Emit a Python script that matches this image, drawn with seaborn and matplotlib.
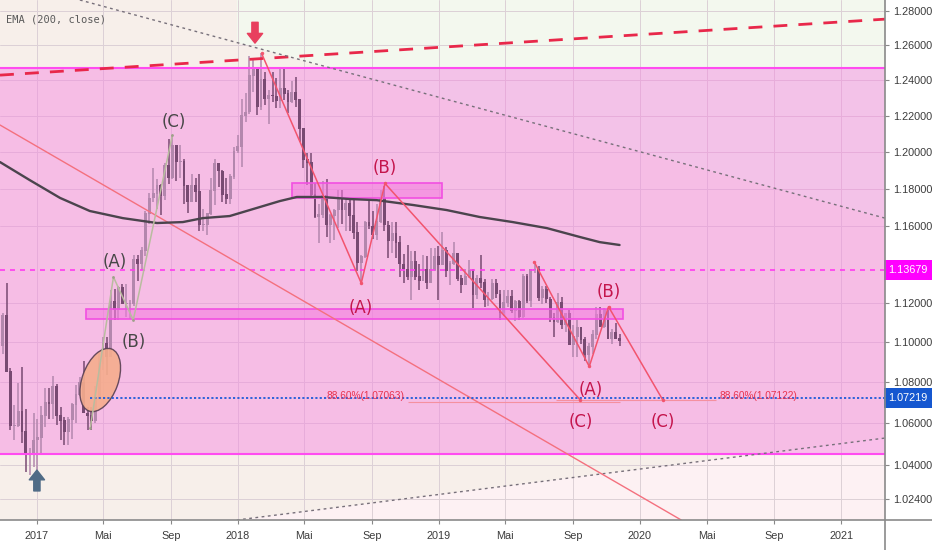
import matplotlib
matplotlib.use("Agg")
import numpy as np
import pandas as pd
import matplotlib.pyplot as plt
import matplotlib.dates as mdates
import matplotlib.transforms as mtransforms
from matplotlib.patches import Ellipse, Rectangle
from matplotlib.lines import Line2D
from matplotlib.ticker import FixedLocator, NullLocator
import seaborn as sns

# === weekly candles (EUR/USD style), open = previous close ===
first_week = "2016-10-31"
first_open = 1.0985
highs = [1.1146, 1.1300, 1.0870, 1.0690, 1.0797, 1.0875, 1.0670, 1.0480, 1.0650,
         1.0620, 1.0685, 1.0775, 1.0775, 1.0830, 1.0790, 1.0680, 1.0630, 1.0630,
         1.0700, 1.0785, 1.0825, 1.0905, 1.0680, 1.0680, 1.0780, 1.0950, 1.1025,
         1.1025, 1.1265, 1.1270, 1.1285, 1.1295, 1.1295, 1.1215, 1.1445, 1.1445,
         1.1490, 1.1680, 1.1775, 1.1910, 1.1850, 1.1825, 1.1940, 1.2070, 1.2092,
         1.2040, 1.2035, 1.1960, 1.1820, 1.1880, 1.1860, 1.1880, 1.1690, 1.1665,
         1.1860, 1.1960, 1.1940, 1.1900, 1.1860, 1.1880, 1.2025,
         1.2090, 1.2295, 1.2325, 1.2536, 1.2520, 1.2475, 1.2555, 1.2445, 1.2345,
         1.2445, 1.2410, 1.2475, 1.2475, 1.2345, 1.2395, 1.2415, 1.2290, 1.2130,
         1.1995, 1.1995, 1.1830, 1.1720, 1.1840, 1.1850, 1.1665, 1.1690, 1.1790,
         1.1790, 1.1745, 1.1750, 1.1745, 1.1620, 1.1445, 1.1625, 1.1735, 1.1680,
         1.1720, 1.1790, 1.1815, 1.1625, 1.1620, 1.1620, 1.1545, 1.1455, 1.1500,
         1.1470, 1.1470, 1.1400, 1.1445, 1.1440, 1.1485, 1.1485,
         1.1495, 1.1570, 1.1490, 1.1415, 1.1515, 1.1460, 1.1345, 1.1375, 1.1420,
         1.1375, 1.1345, 1.1450, 1.1325, 1.1255, 1.1325, 1.1325, 1.1265, 1.1265,
         1.1265, 1.1265, 1.1215, 1.1215, 1.1350, 1.1350, 1.1375, 1.1412, 1.1390,
         1.1285, 1.1285, 1.1230, 1.1150, 1.1250, 1.1230, 1.1150, 1.1165, 1.1085,
         1.1110, 1.1075, 1.1025, 1.0995, 1.1060, 1.1180, 1.1180, 1.1175, 1.1175,
         1.1065, 1.1095, 1.1040]
lows = [1.0942, 1.0850, 1.0570, 1.0518, 1.0580, 1.0505, 1.0365, 1.0352, 1.0390,
        1.0340, 1.0455, 1.0580, 1.0620, 1.0620, 1.0590, 1.0520, 1.0495, 1.0495,
        1.0525, 1.0600, 1.0735, 1.0650, 1.0570, 1.0570, 1.0600, 1.0820, 1.0860,
        1.0835, 1.0925, 1.1110, 1.1110, 1.1195, 1.1130, 1.1120, 1.1185, 1.1310,
        1.1370, 1.1440, 1.1610, 1.1730, 1.1690, 1.1660, 1.1740, 1.1825, 1.1850,
        1.1840, 1.1860, 1.1715, 1.1670, 1.1730, 1.1730, 1.1575, 1.1575, 1.1555,
        1.1660, 1.1710, 1.1810, 1.1730, 1.1715, 1.1720, 1.1850,
        1.1995, 1.1915, 1.2165, 1.2210, 1.2335, 1.2205, 1.2230, 1.2260, 1.2155,
        1.2275, 1.2240, 1.2240, 1.2285, 1.2215, 1.2270, 1.2250, 1.2055, 1.1910,
        1.1820, 1.1750, 1.1645, 1.1510, 1.1640, 1.1540, 1.1510, 1.1525, 1.1590,
        1.1610, 1.1575, 1.1575, 1.1530, 1.1365, 1.1301, 1.1430, 1.1585, 1.1530,
        1.1525, 1.1615, 1.1575, 1.1430, 1.1460, 1.1430, 1.1335, 1.1300, 1.1315,
        1.1215, 1.1320, 1.1265, 1.1315, 1.1270, 1.1300, 1.1365,
        1.1215, 1.1395, 1.1335, 1.1290, 1.1395, 1.1310, 1.1250, 1.1295, 1.1330,
        1.1175, 1.1220, 1.1275, 1.1180, 1.1185, 1.1215, 1.1225, 1.1110, 1.1135,
        1.1180, 1.1150, 1.1105, 1.1115, 1.1125, 1.1200, 1.1180, 1.1355, 1.1210,
        1.1195, 1.1200, 1.1100, 1.1025, 1.1095, 1.1065, 1.1050, 1.0985, 1.0925,
        1.0925, 1.0990, 1.0905, 1.0879, 1.0940, 1.1015, 1.1075, 1.1070, 1.1015,
        1.0990, 1.1015, 1.0980]
closes = [1.1138, 1.0855, 1.0590, 1.0590, 1.0660, 1.0560, 1.0450, 1.0455, 1.0520,
          1.0530, 1.0640, 1.0700, 1.0695, 1.0780, 1.0640, 1.0615, 1.0560, 1.0620,
          1.0690, 1.0740, 1.0800, 1.0650, 1.0640, 1.0615, 1.0725, 1.0895, 1.0995,
          1.0930, 1.1205, 1.1165, 1.1280, 1.1195, 1.1195, 1.1195, 1.1425, 1.1400,
          1.1470, 1.1665, 1.1750, 1.1775, 1.1820, 1.1760, 1.1925, 1.1860, 1.2035,
          1.1945, 1.1950, 1.1815, 1.1730, 1.1820, 1.1785, 1.1605, 1.1610, 1.1665,
          1.1790, 1.1935, 1.1895, 1.1770, 1.1745, 1.1865, 1.2005,
          1.2030, 1.2200, 1.2220, 1.2425, 1.2460, 1.2250, 1.2405, 1.2295, 1.2315,
          1.2310, 1.2285, 1.2355, 1.2325, 1.2280, 1.2330, 1.2290, 1.2130, 1.1960,
          1.1940, 1.1770, 1.1650, 1.1660, 1.1765, 1.1610, 1.1655, 1.1685, 1.1745,
          1.1685, 1.1720, 1.1655, 1.1565, 1.1410, 1.1440, 1.1620, 1.1600, 1.1555,
          1.1625, 1.1750, 1.1605, 1.1525, 1.1560, 1.1515, 1.1400, 1.1375, 1.1335,
          1.1415, 1.1335, 1.1315, 1.1375, 1.1305, 1.1370, 1.1440,
          1.1395, 1.1470, 1.1365, 1.1405, 1.1455, 1.1325, 1.1295, 1.1335, 1.1365,
          1.1240, 1.1325, 1.1305, 1.1215, 1.1220, 1.1300, 1.1245, 1.1150, 1.1200,
          1.1235, 1.1160, 1.1205, 1.1130, 1.1335, 1.1210, 1.1370, 1.1370, 1.1225,
          1.1270, 1.1220, 1.1125, 1.1105, 1.1200, 1.1090, 1.1145, 1.0990, 1.1030,
          1.1075, 1.1015, 1.0940, 1.0980, 1.1040, 1.1140, 1.1080, 1.1165, 1.1020,
          1.1050, 1.1020, 1.1010]

# === EMA(200) ===
ema_dates = ["2016-10-26", "2016-12-19", "2017-02-12", "2017-04-07", "2017-06-06",
             "2017-08-07", "2017-09-23", "2017-10-29", "2017-12-17", "2018-02-04",
             "2018-03-18", "2018-04-18", "2018-06-04", "2018-07-23", "2018-09-10",
             "2018-11-15", "2019-01-15", "2019-03-16", "2019-05-15", "2019-07-16",
             "2019-09-14", "2019-10-20", "2019-11-25"]
ema_values = [1.1944, 1.1846, 1.1750, 1.1680, 1.1642, 1.1616, 1.1621, 1.1642, 1.1653,
              1.1696, 1.1733, 1.1755, 1.1755, 1.1744, 1.1738, 1.1712, 1.1685, 1.1648,
              1.1621, 1.1589, 1.1542, 1.1515, 1.1500]

# === drawings ===
wave_gray_dates = ["2017-04-08", "2017-05-20", "2017-06-25", "2017-09-04"]
wave_gray_prices = [1.0578, 1.1333, 1.1112, 1.2092]
wave_red1_dates = ["2018-02-13", "2018-08-13", "2018-09-25", "2019-09-14"]
wave_red1_prices = [1.2552, 1.1301, 1.1828, 1.0716]
wave_red2_dates = ["2019-06-23", "2019-10-01", "2019-11-05", "2020-02-11"]
wave_red2_prices = [1.1412, 1.0879, 1.1180, 1.0716]

gray_labels = ["(A)", "(B)", "(C)"]
gray_label_dates = ["2017-05-23", "2017-06-26", "2017-09-06"]
gray_label_prices = [1.1411, 1.1001, 1.2165]
red_labels = ["(B)", "(A)", "(B)", "(A)", "(C)", "(C)"]
red_label_dates = ["2018-09-25", "2018-08-12", "2019-11-05", "2019-10-03", "2019-09-16", "2020-02-11"]
red_label_prices = [1.1910, 1.1173, 1.1257, 1.0763, 1.0608, 1.0608]

zone_low, zone_high = 1.0453, 1.2470
level_magenta = 1.13679
level_blue = 1.07219
level_blue_start = "2017-04-07"
box_a = ("2017-04-01", "2019-12-02", 1.1118, 1.1166)
box_b = ("2018-04-09", "2019-01-07", 1.1750, 1.1830)

red_dash_dates = ["2016-10-26", "2021-03-21"]
red_dash_prices = [1.2428, 1.2750]
upper_dot_dates = ["2017-03-20", "2021-03-21"]
upper_dot_prices = [1.2862, 1.1642]
lower_dot_dates = ["2017-12-30", "2021-03-21"]
lower_dot_prices = [1.0142, 1.0529]
long_red_dates = ["2016-10-26", "2020-03-16"]
long_red_prices = [1.2148, 1.0142]

fib_levels = [1.07063, 1.07122]
fib_line_dates = [("2018-11-05", "2019-11-25"), ("2019-08-01", "2020-05-18")]
fib_texts = ["88.60%(1.07063)", "88.60%(1.07122)"]
fib_text_dates = ["2018-10-31", "2020-05-24"]

ellipse_center = ("2017-04-26", 1.0812)
arrow_down_tip = ("2018-02-01", 1.2611)
arrow_up_tip = ("2017-01-01", 1.0376)

y_ticks = [1.28, 1.26, 1.24, 1.22, 1.20, 1.18, 1.16, 1.12, 1.10, 1.08, 1.06, 1.04, 1.024]
x_tick_dates = ["2017-01-01", "2017-05-01", "2017-09-01", "2018-01-01", "2018-05-01",
                "2018-09-01", "2019-01-01", "2019-05-01", "2019-09-01", "2020-01-01",
                "2020-05-01", "2020-09-01", "2021-01-01"]
x_tick_labels = ["2017", "Mai", "Sep", "2018", "Mai", "Sep", "2019", "Mai", "Sep",
                 "2020", "Mai", "Sep", "2021"]


def dn(d):
    return mdates.date2num(pd.Timestamp(d))


def dns(ds):
    return [dn(d) for d in ds]


sns.set_theme(style="white")
plt.rcParams["font.family"] = ["Liberation Sans", "DejaVu Sans"]

fig = plt.figure(figsize=(9.32, 5.5), dpi=100)
fig.patch.set_facecolor("white")
ax = fig.add_axes([0, 30 / 550, 885 / 932, 520 / 550])
ax.set_yscale("log")
xmin, xmax = dn("2016-10-26"), dn("2021-03-21")
ymin, ymax = 1.01421, 1.2862
ax.set_xlim(xmin, xmax)
ax.set_ylim(ymin, ymax)
ax.set_facecolor("#f7efea")

# background regions outside the triangle
x0 = dn("2017-12-30")
ax.fill([x0, xmax, xmax, x0], [1.2614, 1.1642, ymax, ymax], color="#f3f8ee", zorder=0.2, lw=0)
ax.fill([x0, xmax, xmax], [ymin, 1.0529, ymin], color="#fdf1f3", zorder=0.2, lw=0)

# grid
ax.set_axisbelow(True)
ax.grid(True, color="#dcd0d6", lw=0.7)

# main pink zone
ax.add_patch(Rectangle((xmin, zone_low), xmax - xmin, zone_high - zone_low,
                       facecolor=(245 / 255, 130 / 255, 225 / 255, 0.45), lw=0, zorder=2))
ax.hlines([zone_low, zone_high], xmin, xmax, color="#ff4cf0", lw=1.5, zorder=3)

# candles
wx = np.array(dns(pd.date_range(first_week, periods=len(closes), freq="7D")))
c = np.array(closes)
o = np.array([first_open] + closes[:-1])
h = np.array(highs)
l = np.array(lows)
up = c >= o
up_col, dn_col = "#b387ad", "#784a72"
for mask, col in [(up, up_col), (~up, dn_col)]:
    ax.vlines(wx[mask], l[mask], h[mask], color=col, lw=1.1, zorder=2.5)
    ax.bar(wx[mask], np.abs(c - o)[mask] + 0.0004, bottom=np.minimum(o, c)[mask] - 0.0002,
           width=5.2, color=col, lw=0, zorder=2.5)

# highlight boxes
for d1, d2, p1, p2 in [box_a, box_b]:
    ax.add_patch(Rectangle((dn(d1), p1), dn(d2) - dn(d1), p2 - p1,
                           facecolor=(243 / 255, 120 / 255, 222 / 255, 0.55),
                           edgecolor="#f24fe2", lw=1.2, zorder=3))

# horizontal levels
ax.hlines(level_magenta, xmin, xmax, color="#ff3cf0", lw=1.2, linestyles=(0, (3, 3)), zorder=3)
ax.hlines(level_blue, dn(level_blue_start), xmax, color="#1e5bd8", lw=1.3,
          linestyles=(0, (1.2, 1.2)), zorder=5)
for (d1, d2), lv in zip(fib_line_dates, fib_levels):
    ax.hlines(lv, dn(d1), dn(d2), color="#f5909f", lw=0.8, zorder=3)
ax.text(dn(fib_text_dates[0]), 1.0718, fib_texts[0], ha="right", va="baseline",
        fontsize=7.3, color="#e8334f", zorder=6)
ax.text(dn(fib_text_dates[1]), 1.0718, fib_texts[1], ha="left", va="baseline",
        fontsize=7.3, color="#e8334f", zorder=6)

# trend lines
ax.plot(dns(red_dash_dates), red_dash_prices, color="#e8284a", lw=2,
        ls=(0, (5, 4)), zorder=4)
ax.plot(dns(upper_dot_dates), upper_dot_prices, color="#77707a", lw=1,
        ls=(0, (2, 2.5)), zorder=4)
ax.plot(dns(lower_dot_dates), lower_dot_prices, color="#77707a", lw=1,
        ls=(0, (2, 2.5)), zorder=4)
ax.plot(dns(long_red_dates), long_red_prices, color="#f4707e", lw=1, zorder=4)

# EMA line
sns.lineplot(x=dns(ema_dates), y=ema_values, ax=ax, color="#4b444d", lw=1.7,
             sort=False, zorder=4)

# wave paths
ax.plot(dns(wave_gray_dates), wave_gray_prices, color="#b9bc9f", lw=1.1, zorder=5,
        marker="o", ms=2, mfc="#9ea08a", mec="none")
for ds, ps in [(wave_red1_dates, wave_red1_prices), (wave_red2_dates, wave_red2_prices)]:
    ax.plot(dns(ds), ps, color="#f2546e", lw=1.1, zorder=5, marker="o", ms=2.5,
            mfc="#f2546e", mec="none")
for t, d, p in zip(gray_labels, gray_label_dates, gray_label_prices):
    ax.text(dn(d), p, t, ha="center", va="center", fontsize=12, color="#474747",
            family=["DejaVu Sans"], zorder=6)
for t, d, p in zip(red_labels, red_label_dates, red_label_prices):
    ax.text(dn(d), p, t, ha="center", va="center", fontsize=12, color="#c4154c",
            family=["DejaVu Sans"], zorder=6)

# ellipse (sized in screen inches, anchored in data)
et = fig.dpi_scale_trans + mtransforms.ScaledTranslation(dn(ellipse_center[0]), ellipse_center[1], ax.transData)
ax.add_patch(Ellipse((0, 0), 0.66, 0.36, angle=70, transform=et,
                     facecolor="#f5ad8e", edgecolor="#5b4155", lw=1, alpha=0.92, zorder=3.5))

# arrows
ax.annotate("", xy=(dn(arrow_down_tip[0]), arrow_down_tip[1]), xytext=(0, 15),
            textcoords="offset points",
            arrowprops=dict(width=4.5, headwidth=11, headlength=7, color="#e8405e", shrink=0),
            zorder=6)
ax.annotate("", xy=(dn(arrow_up_tip[0]), arrow_up_tip[1]), xytext=(0, -15),
            textcoords="offset points",
            arrowprops=dict(width=4.5, headwidth=11, headlength=7, color="#4f6b86", shrink=0),
            zorder=6)

# legend text
ax.text(6 / 885, 1 - 20 / 520, "EMA (200, close)", transform=ax.transAxes, ha="left",
        va="center", fontsize=7.5, color="#5a5a5a", family=["DejaVu Sans Mono"])

# axes styling
ax.set_xlabel("")
ax.set_ylabel("")
ax.yaxis.tick_right()
ax.yaxis.set_major_locator(FixedLocator(y_ticks))
ax.yaxis.set_minor_locator(NullLocator())
ax.set_yticklabels([f"{v:.5f}" for v in y_ticks])
ax.xaxis.set_major_locator(FixedLocator(dns(x_tick_dates)))
ax.xaxis.set_minor_locator(NullLocator())
ax.set_xticklabels(x_tick_labels)
ax.tick_params(axis="y", right=True, length=3, width=0.8, color="#888888", pad=3,
               labelsize=7.8, labelcolor="#3c3c3c")
ax.tick_params(axis="x", bottom=True, length=3, width=0.8, color="#888888", pad=5,
               labelsize=7.8, labelcolor="#3c3c3c")
for s in ["top", "left", "right", "bottom"]:
    ax.spines[s].set_visible(False)
fig.add_artist(Line2D([0, 1], [30 / 550, 30 / 550], transform=fig.transFigure,
                      color="#8a8a8a", lw=1.2))
fig.add_artist(Line2D([885 / 932, 885 / 932], [0, 1], transform=fig.transFigure,
                      color="#8a8a8a", lw=1.2))

# price labels on axis
bt = mtransforms.blended_transform_factory(ax.transAxes, ax.transData)
for val, col in [(level_magenta, "#ff00ff"), (level_blue, "#1557d0")]:
    ax.text(1.004, val, f"{val:.5f}", transform=bt, ha="left", va="center", fontsize=7.8,
            color="white", clip_on=False, zorder=10,
            bbox=dict(boxstyle="square,pad=0.45", fc=col, ec="none"))

fig.savefig("out.png", dpi=100, facecolor="white")
